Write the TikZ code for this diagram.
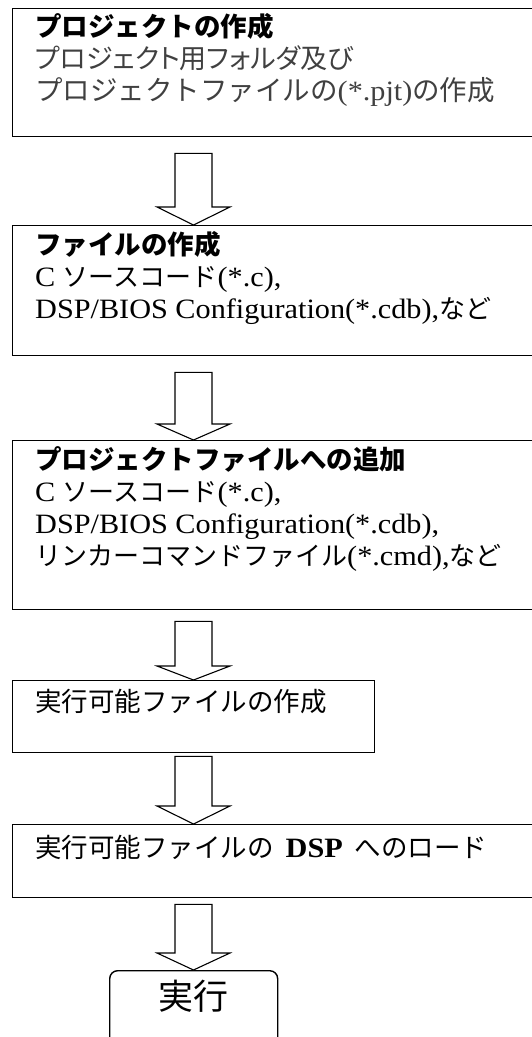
\documentclass[tikz,border=0pt]{standalone}
\usepackage{fontspec}
\setmainfont[FakeStretch=1.08]{Liberation Serif}
\newfontfamily\jp{Noto Sans CJK JP}
\newfontfamily\jpp[RawFeature=+palt]{Noto Sans CJK JP}
\usetikzlibrary{calc}
\newcommand{\J}[1]{{\jp #1}}
\newcommand{\JS}[2]{{\fontsize{#1}{#1}\selectfont\jp #2}}
\tikzset{
  box/.style={draw=black, line width=1.4pt, anchor=north west, inner sep=0pt},
  rbox/.style={draw=black, line width=1.4pt, anchor=north west, inner sep=0pt, rounded corners=8pt},
  blockarr/.style={draw=black, line width=1.1pt, fill=white, line join=miter},
  ttl/.style={anchor=base west, inner sep=0pt, font=\fontsize{26.5}{26.5}\selectfont\jp\bfseries},
  sub/.style={anchor=base west, inner sep=0pt, font=\fontsize{28}{28}\selectfont},
  graysub/.style={sub, text=black!75},
  big/.style={anchor=base, inner sep=0pt, font=\fontsize{35}{35}\selectfont\jp},
}
% block arrow from node #1 down to node #2, gap #3 below #1, head length #4
\newcommand{\flowarrow}[4]{%
  \draw[blockarr] let \p1=(#1.south), \p2=(#2.north), \p3=(ax) in
    (\x3-18.5pt,\y1-#3pt) -- (\x3+18.5pt,\y1-#3pt) -- (\x3+18.5pt,\y2+#4pt)
    -- (\x3+36.5pt,\y2+#4pt) -- (\x3,\y2) -- (\x3-36.5pt,\y2+#4pt)
    -- (\x3-18.5pt,\y2+#4pt) -- cycle;}
\begin{document}
\begin{tikzpicture}[x=1pt,y=-1pt]
\useasboundingbox (0,0) rectangle (531,1037);
\coordinate (ax) at (193.5,0);
% boxes
\node[box, minimum width=540pt, minimum height=128pt] (b1) at (12,8) {};
\node[box, minimum width=540pt, minimum height=130pt] (b2) at (12,225) {};
\node[box, minimum width=540pt, minimum height=169pt] (b3) at (12,440) {};
\node[box, minimum width=362pt, minimum height=72pt] (b4) at (12,680) {};
\node[box, minimum width=540pt, minimum height=73pt] (b5) at (12,824) {};
\node[rbox, minimum width=168pt, minimum height=90pt] (b6) at (109,970) {};
% texts box 1
\node[ttl] (t11) at (35,36) {プロジェクトの作成};
\node[graysub] (t12) at (35,68) {{\fontsize{27}{27}\selectfont\jpp プロジェクト用フォルダ及び}};
\node[graysub] (t13) at (35,100) {\JS{27.5}{プロジェクトファイルの}(*.pjt)\JS{27.5}{の作成}};
% box 2
\node[ttl] (t21) at (35,254) {ファイルの作成};
\node[sub] (t22) at (35,286) {C \JS{26}{ソースコード}(*.c),};
\node[sub] (t23) at (35,318) {DSP/BIOS Configuration(*.cdb),\JS{26}{など}};
% box 3
\node[ttl] (t31) at (35,469) {プロジェクトファイルへの追加};
\node[sub] (t32) at (35,501) {C \JS{26}{ソースコード}(*.c),};
\node[sub] (t33) at (35,533) {DSP/BIOS Configuration(*.cdb),};
\node[sub] (t34) at (35,565) {\JS{26}{リンカーコマンドファイル}(*.cmd),\JS{26}{など}};
% box 4, 5, 6
\node[sub] (t41) at (35,711) {\JS{26.5}{実行可能ファイルの作成}};
\node[sub] (t51) at (35,857) {\JS{26.5}{実行可能ファイルの}\hspace{12pt}\textbf{DSP}\hspace{12pt}\JS{26.5}{へのロード}};
\node[big] (t61) at (193,1009) {実行};
% arrows
\flowarrow{b1}{b2}{16}{18}
\flowarrow{b2}{b3}{16}{16}
\flowarrow{b3}{b4}{11}{14}
\flowarrow{b4}{b5}{3}{18}
\flowarrow{b5}{b6}{6}{17}
\end{tikzpicture}
\end{document}
